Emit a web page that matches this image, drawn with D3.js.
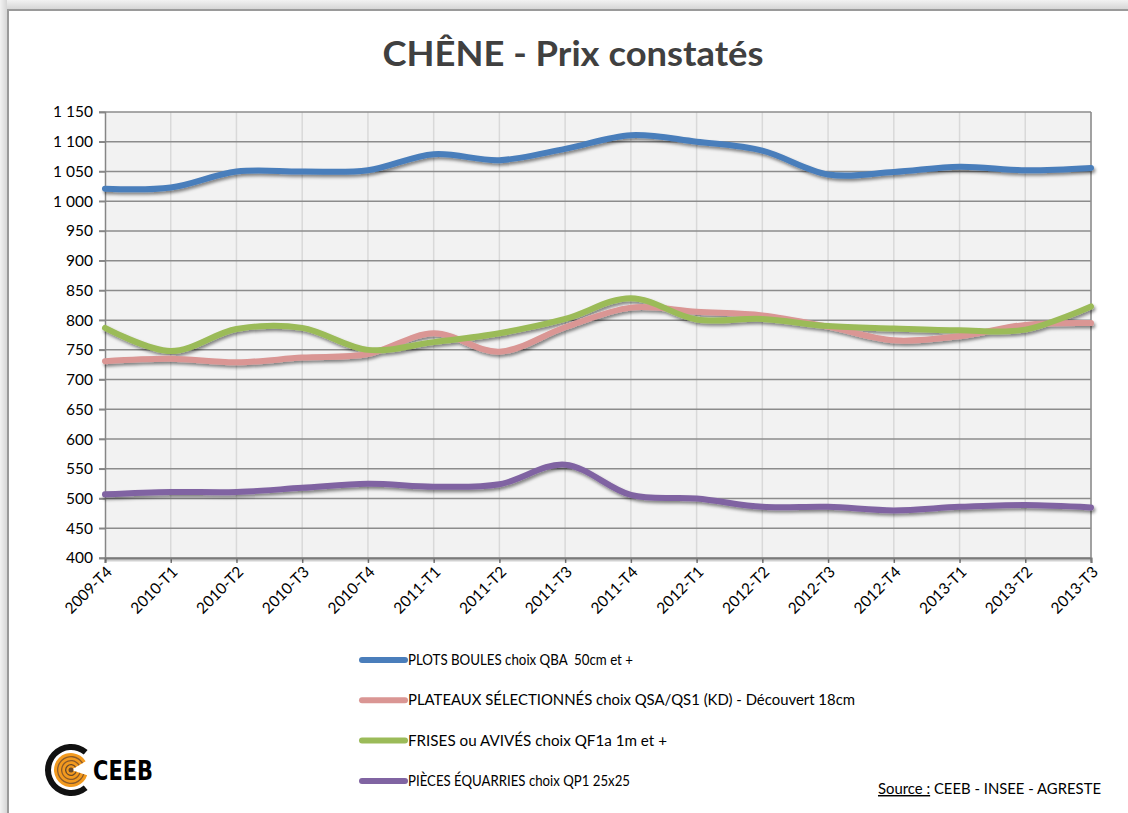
<!DOCTYPE html>
<html>
<head>
<meta charset="utf-8">
<script src="https://cdn.jsdelivr.net/npm/d3@7"></script>
<style>
  html, body { margin: 0; padding: 0; background: #fff; }
  svg { display: block; font-family: Lato, "Open Sans", sans-serif; }
  text { white-space: pre; }
</style>
</head>
<body>
<svg id="chart" width="1128" height="813"></svg>
<script>
// Catégories (trimestres)
const categories = ['2009-T4', '2010-T1', '2010-T2', '2010-T3', '2010-T4', '2011-T1', '2011-T2', '2011-T3',
  '2011-T4', '2012-T1', '2012-T2', '2012-T3', '2012-T4', '2013-T1', '2013-T2', '2013-T3'];

// Séries (prix constatés)
const plotsBoules = [1021, 1023, 1050, 1050, 1052, 1079, 1069, 1088, 1111, 1100, 1085, 1045, 1049, 1058, 1052, 1056];
const plateaux = [731, 735, 729, 737, 743, 778, 747, 788, 821, 814, 808, 789, 766, 773, 792, 795];
const frises = [787, 748, 785, 787, 750, 763, 778, 802, 837, 801, 802, 790, 786, 783, 784, 823];
const pieces = [507, 511, 511, 518, 525, 520, 524, 557, 506, 500, 486, 486, 480, 486, 489, 485];

const seriesNames = [
  'PLOTS BOULES choix QBA  50cm et +',
  'PLATEAUX SÉLECTIONNÉS choix QSA/QS1 (KD) - Découvert 18cm',
  'FRISES ou AVIVÉS choix QF1a 1m et +',
  'PIÈCES ÉQUARRIES choix QP1 25x25'
];
const seriesColors = ['#4a7ebb', '#da9694', '#9bbb59', '#8064a2'];
const yTicks = [400, 450, 500, 550, 600, 650, 700, 750, 800, 850, 900, 950, 1000, 1050, 1100, 1150];

const series = [plotsBoules, plateaux, frises, pieces].map((values, i) => ({
  name: seriesNames[i], color: seriesColors[i], values
}));

const svg = d3.select('#chart');
const defs = svg.append('defs');

// Ombre des courbes
const shadow = defs.append('filter').attr('id', 'shadow')
  .attr('x', '-5%').attr('y', '-20%').attr('width', '110%').attr('height', '140%');
shadow.append('feDropShadow')
  .attr('dx', 1.5).attr('dy', 2.5).attr('stdDeviation', 1.4)
  .attr('flood-color', '#000').attr('flood-opacity', 0.45);

// Cadre de la page
const gTop = defs.append('linearGradient').attr('id', 'gTop').attr('x1', 0).attr('y1', 0).attr('x2', 0).attr('y2', 1);
gTop.append('stop').attr('offset', 0).attr('stop-color', '#f2f2f2');
gTop.append('stop').attr('offset', 1).attr('stop-color', '#d6d6d6');
const gLeft = defs.append('linearGradient').attr('id', 'gLeft').attr('x1', 0).attr('y1', 0).attr('x2', 1).attr('y2', 0);
gLeft.append('stop').attr('offset', 0).attr('stop-color', '#f2f2f2');
gLeft.append('stop').attr('offset', 1).attr('stop-color', '#d6d6d6');

svg.append('rect').attr('width', 1128).attr('height', 813).attr('fill', '#fff');
svg.append('rect').attr('x', 0).attr('y', 0).attr('width', 1128).attr('height', 9).attr('fill', 'url(#gTop)');
svg.append('rect').attr('x', 0).attr('y', 0).attr('width', 7).attr('height', 813).attr('fill', 'url(#gLeft)');
svg.append('path').attr('d', 'M8,813 V10 H1128')
  .attr('fill', 'none').attr('stroke', '#9a9a9a').attr('stroke-width', 2);

// Titre
svg.append('text')
  .attr('x', 573).attr('y', 66)
  .attr('text-anchor', 'middle')
  .attr('font-size', 34).attr('font-weight', 'bold')
  .attr('fill', '#404040')
  .attr('textLength', 381).attr('lengthAdjust', 'spacingAndGlyphs')
  .text('CHÊNE - Prix constatés');

// Échelles
const x = d3.scalePoint().domain(categories).range([105, 1091]);
const y = d3.scaleLinear().domain([400, 1150]).range([558, 112]);

const fr = d3.formatLocale({ decimal: ',', thousands: ' ', grouping: [3], currency: ['', ' €'] });
const fmt = fr.format(',d');

// Zone de traçage
svg.append('rect')
  .attr('x', x.range()[0]).attr('y', y(1150))
  .attr('width', x.range()[1] - x.range()[0]).attr('height', y(400) - y(1150))
  .attr('fill', '#f2f2f2');

// Quadrillage vertical
svg.append('g').selectAll('line')
  .data(categories.slice(1))
  .join('line')
  .attr('x1', d => x(d)).attr('x2', d => x(d))
  .attr('y1', y(1150)).attr('y2', y(400))
  .attr('stroke', '#d9d9d9').attr('stroke-width', 1.5);

// Quadrillage horizontal
svg.append('g').selectAll('line')
  .data(yTicks)
  .join('line')
  .attr('x1', x.range()[0] - 6).attr('x2', x.range()[1])
  .attr('y1', d => y(d)).attr('y2', d => y(d))
  .attr('stroke', '#8c8c8c').attr('stroke-width', 1.5);

// Axe Y
const yAxis = svg.append('g')
  .attr('transform', `translate(${x.range()[0]},0)`)
  .call(d3.axisLeft(y).tickValues(yTicks).tickFormat(fmt).tickSize(6).tickPadding(6));
yAxis.select('.domain').attr('stroke', '#868686').attr('stroke-width', 1.5);
yAxis.selectAll('.tick line').attr('stroke', '#868686').attr('stroke-width', 1.5);
yAxis.selectAll('.tick text')
  .attr('font-family', 'Lato, "Open Sans", sans-serif')
  .attr('font-size', 15.5).attr('fill', '#000');

// Bord droit
svg.append('line')
  .attr('x1', x.range()[1]).attr('x2', x.range()[1])
  .attr('y1', y(1150)).attr('y2', y(400))
  .attr('stroke', '#8c8c8c').attr('stroke-width', 1.5);

// Axe X
const xAxis = svg.append('g')
  .attr('transform', `translate(0,${y(400)})`)
  .call(d3.axisBottom(x).tickSize(5).tickFormat(''));
xAxis.select('.domain').attr('stroke', '#7a7a7a').attr('stroke-width', 2);
xAxis.selectAll('.tick line').attr('stroke', '#7a7a7a').attr('stroke-width', 1.5);
// ombre sous l'axe
svg.append('line')
  .attr('x1', x.range()[0]).attr('x2', x.range()[1])
  .attr('y1', y(400) + 2.5).attr('y2', y(400) + 2.5)
  .attr('stroke', '#000').attr('stroke-opacity', 0.18).attr('stroke-width', 2);

svg.append('g').selectAll('text')
  .data(categories)
  .join('text')
  .attr('transform', d => `translate(${x(d) + 8},${y(400) + 15}) rotate(-45)`)
  .attr('text-anchor', 'end')
  .attr('font-size', 15.5)
  .attr('fill', '#000')
  .text(d => d);

// Courbes lissées
const line = d3.line()
  .x((d, i) => x(categories[i]))
  .y(d => y(d))
  .curve(d3.curveCardinal.tension(0));

svg.append('g').attr('filter', 'url(#shadow)')
  .selectAll('path')
  .data(series)
  .join('path')
  .attr('d', d => line(d.values))
  .attr('fill', 'none')
  .attr('stroke', d => d.color)
  .attr('stroke-width', 6)
  .attr('stroke-linejoin', 'round')
  .attr('stroke-linecap', 'round');

// Légende
const legendWidths = [225, 447, 259, 222];
const legend = svg.append('g').selectAll('g')
  .data(series)
  .join('g')
  .attr('transform', (d, i) => `translate(362,${660 + i * 40.3})`);
legend.append('line')
  .attr('x1', 0).attr('x2', 43)
  .attr('stroke', d => d.color)
  .attr('stroke-width', 6)
  .attr('stroke-linecap', 'round');
legend.append('text')
  .attr('x', 46).attr('y', 5)
  .attr('font-size', 14.5)
  .attr('fill', '#000')
  .attr('textLength', (d, i) => legendWidths[i])
  .attr('lengthAdjust', 'spacingAndGlyphs')
  .text(d => d.name);

// Source
const src = svg.append('text')
  .attr('x', 878).attr('y', 794)
  .attr('font-size', 14.5).attr('fill', '#000')
  .attr('textLength', 223).attr('lengthAdjust', 'spacingAndGlyphs');
src.append('tspan').attr('text-decoration', 'underline').text('Source :');
src.append('tspan').text(' CEEB - INSEE - AGRESTE');

// Logo CEEB
const logo = svg.append('g').attr('transform', 'translate(71,770)');
const arcC = d3.arc();
logo.append('path')
  .attr('d', arcC({ innerRadius: 20, outerRadius: 26, startAngle: Math.PI * 0.78, endAngle: Math.PI * 2.22 }))
  .attr('fill', '#111');
logo.append('path')
  .attr('d', arcC({ innerRadius: 0, outerRadius: 17, startAngle: Math.PI * 0.6, endAngle: Math.PI * 2.33 }))
  .attr('fill', '#f39a1e');
[14, 10, 6].forEach((r, i) => {
  logo.append('path')
    .attr('d', arcC({ innerRadius: r - 1.3, outerRadius: r, startAngle: Math.PI * 0.6, endAngle: Math.PI * 2.33 }))
    .attr('fill', i === 2 ? '#6b4a2a' : '#8a5a2b');
});
logo.append('circle').attr('r', 2.5).attr('fill', '#6b4a2a');
logo.append('text')
  .attr('x', 22).attr('y', 10)
  .attr('font-family', '"DejaVu Sans Condensed", "Liberation Sans", sans-serif')
  .attr('font-size', 26).attr('font-weight', 'bold')
  .attr('fill', '#000')
  .attr('textLength', 60).attr('lengthAdjust', 'spacingAndGlyphs')
  .text('CEEB');
</script>
</body>
</html>
